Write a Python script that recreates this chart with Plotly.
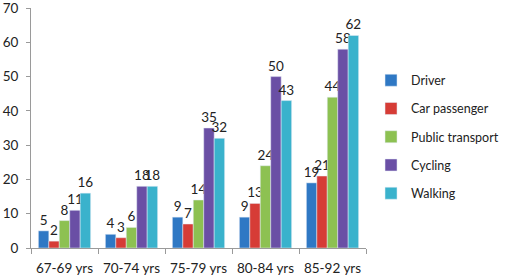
import plotly.graph_objects as go

categories = ["67-69 yrs", "70-74 yrs", "75-79 yrs", "80-84 yrs", "85-92 yrs"]
series_names = ["Driver", "Car passenger", "Public transport", "Cycling", "Walking"]
driver = [5, 4, 9, 9, 19]
car_passenger = [2, 3, 7, 13, 21]
public_transport = [8, 6, 14, 24, 44]
cycling = [11, 18, 35, 50, 58]
walking = [16, 18, 32, 43, 62]
y_ticks = [0, 10, 20, 30, 40, 50, 60, 70]

colors = ["#2F78C4", "#D63C36", "#8DC152", "#6A4FA5", "#3AB2CC"]
values = [driver, car_passenger, public_transport, cycling, walking]

fig = go.Figure()
for i, (name, vals) in enumerate(zip(series_names, values)):
    fig.add_trace(go.Bar(
        x=categories, y=vals, name=name, marker_color=colors[i],
        text=[str(v) for v in vals], textposition="outside",
        textfont=dict(size=13.5, color="#222222"), constraintext="none",
        cliponaxis=False, legendgroup=name,
    ))

fig.update_layout(
    width=516, height=280,
    margin=dict(l=31, r=150, t=8, b=32, autoexpand=False),
    paper_bgcolor="white", plot_bgcolor="white",
    barmode="group", bargap=0.22, bargroupgap=0,
    font=dict(family="Lato, Open Sans, sans-serif", size=13.5, color="#222222"),
    legend=dict(x=1.015, y=0.76, xanchor="left", yanchor="top",
                font=dict(size=12.5), tracegroupgap=9,
                itemwidth=30, traceorder="grouped"),
    showlegend=True,
)
fig.update_yaxes(range=[0, 70.01], tickvals=y_ticks, showgrid=False,
                 showline=True, linecolor="#9a9a9a", linewidth=1,
                 ticks="outside", ticklen=4, tickcolor="#9a9a9a", zeroline=False,
                 automargin=False, ticklabeloverflow="allow", ticklabelstandoff=5)
fig.update_xaxes(showline=True, linecolor="#9a9a9a", linewidth=1,
                 ticks="outside", ticklen=5, tickcolor="#9a9a9a",
                 tickson="boundaries", showgrid=False, tickangle=0,
                 automargin=False, ticklabelstandoff=8)

fig.write_html("out.html")
